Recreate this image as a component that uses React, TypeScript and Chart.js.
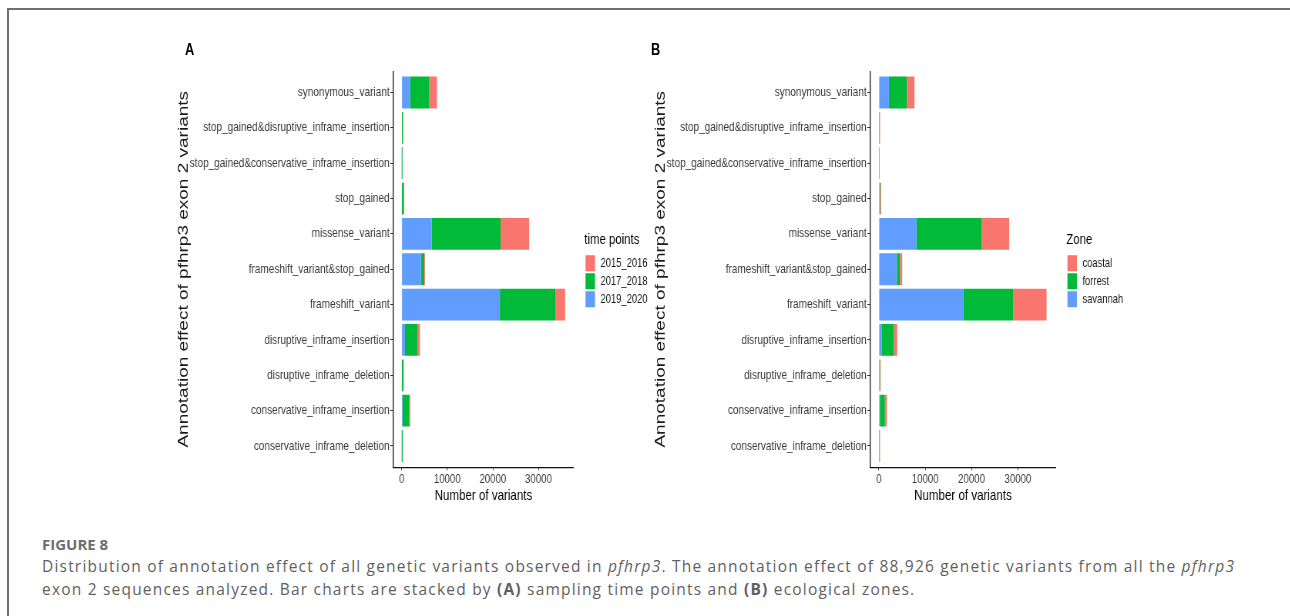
import React, { useEffect, useRef } from "react";
import { Chart, registerables } from "chart.js";

Chart.register(...registerables);

// ---------- data ----------
const categories = [
  "synonymous_variant",
  "stop_gained&disruptive_inframe_insertion",
  "stop_gained&conservative_inframe_insertion",
  "stop_gained",
  "missense_variant",
  "frameshift_variant&stop_gained",
  "frameshift_variant",
  "disruptive_inframe_insertion",
  "disruptive_inframe_deletion",
  "conservative_inframe_insertion",
  "conservative_inframe_deletion",
];

// Panel A: time points
const tp2019_2020 = [1830, 80, 30, 60, 6570, 4230, 21530, 730, 50, 220, 30];
const tp2017_2018 = [4230, 260, 170, 380, 15110, 730, 12190, 2700, 350, 1460, 220];
const tp2015_2016 = [1680, 30, 20, 140, 6280, 150, 2120, 580, 50, 220, 20];

// Panel B: zones
const zSavannah = [2160, 80, 50, 150, 8130, 3880, 18270, 650, 100, 220, 80];
const zForrest = [3880, 110, 80, 150, 14030, 650, 10720, 2590, 150, 1080, 120];
const zCoastal = [1650, 70, 40, 200, 5970, 500, 7190, 720, 150, 430, 50];

const xTickValues = [0, 10000, 20000, 30000];

const RED = "#F8766D";
const GREEN = "#00BA38";
const BLUE = "#619CFF";

const SANS = '"Liberation Sans", Arial, sans-serif';

// the reference figure is horizontally squeezed: draw wide, display narrow
const VIS_W = 490;
const INT_W = 636;
const K = VIS_W / INT_W;
const H = 470;

const ggLegend = {
  id: "ggLegend",
  afterDraw(chart: any, _args: any, opts: any) {
    const { ctx, chartArea } = chart;
    const x0 = chartArea.right + 12 / K;
    const cy = (chartArea.top + chartArea.bottom) / 2;
    ctx.save();
    ctx.textBaseline = "middle";
    ctx.textAlign = "left";
    ctx.fillStyle = "#000";
    ctx.font = `14.8px ${SANS}`;
    ctx.fillText(opts.title, x0 - 1.5, cy - 29);
    const ds = chart.data.datasets.slice().reverse();
    ds.forEach((d: any, i: number) => {
      const top = cy - 14 + i * 18;
      ctx.fillStyle = d.backgroundColor;
      ctx.fillRect(x0, top, 9.5 / K, 16);
      ctx.fillStyle = "#1a1a1a";
      ctx.font = `12.2px ${SANS}`;
      ctx.fillText(d.label, x0 + 15 / K, top + 8.5);
    });
    ctx.restore();
  },
};

type PanelProps = {
  series: { label: string; data: number[]; color: string }[];
  legendTitle: string;
  xMin: number;
  xMax: number;
  padRight: number;
};

function Panel({ series, legendTitle, xMin, xMax, padRight }: PanelProps) {
  const ref = useRef<HTMLCanvasElement>(null);
  useEffect(() => {
    if (!ref.current) return;
    const chart = new Chart(ref.current, {
      type: "bar",
      data: {
        datasets: series.map((s) => ({
          label: s.label,
          data: s.data.map((v, i) => ({ x: v, y: i })),
          backgroundColor: s.color,
          borderWidth: 0,
          barPercentage: 0.9,
          categoryPercentage: 1,
        })),
      },
      options: {
        animation: false,
        responsive: false,
        indexAxis: "y",
        layout: { padding: { left: 6.8, top: 31.3, bottom: 5, right: padRight } },
        plugins: {
          legend: { display: false },
          tooltip: { enabled: false },
          ggLegend: { title: legendTitle },
        } as any,
        scales: {
          x: {
            type: "linear",
            stacked: true,
            min: xMin,
            max: xMax,
            offset: false,
            afterFit: (s: any) => {
              s.height = 37.8;
            },
            afterBuildTicks: (s: any) => {
              s.ticks = xTickValues.map((v) => ({ value: v }));
            },
            grid: { drawOnChartArea: false, drawTicks: true, tickLength: 3, color: "#333", offset: false },
            border: { display: true, color: "#111", width: 1.3 },
            ticks: {
              font: { family: SANS, size: 12.5 },
              color: "#3a3a3a",
              padding: 2,
              maxRotation: 0,
              autoSkip: false,
              callback: (v: any) => String(v),
            },
            title: {
              display: true,
              text: "Number of variants",
              font: { family: SANS, size: 15 },
              color: "#000",
              padding: 0,
            },
          },
          y: {
            type: "linear",
            stacked: true,
            reverse: true,
            offset: false,
            min: -0.6,
            max: categories.length - 1 + 0.6,
            afterFit: (s: any) => {
              s.width = 283.2;
            },
            afterBuildTicks: (s: any) => {
              s.ticks = categories.map((_, i) => ({ value: i }));
            },
            grid: { drawOnChartArea: false, drawTicks: true, tickLength: 4, color: "#333", offset: false },
            border: { display: true, color: "#111", width: 1.3 },
            ticks: {
              font: { family: SANS, size: 13 },
              color: "#3a3a3a",
              padding: 1,
              autoSkip: false,
              callback: (v: any) => categories[v as number],
            },
            title: {
              display: true,
              text: "Annotation effect of pfhrp3 exon 2 variants",
              font: { family: SANS, size: 19 },
              color: "#1a1a1a",
              padding: 0,
            },
          },
        },
      } as any,
      plugins: [ggLegend],
    });
    return () => chart.destroy();
  }, []);
  return (
    <canvas
      ref={ref}
      width={INT_W}
      height={H}
      style={{ width: VIS_W, height: H, display: "block" }}
    />
  );
}

export default function App() {
  return (
    <div style={{ position: "absolute", left: 0, top: 0, width: 1290, height: 616, background: "#fff", overflow: "hidden" }}>
      <div
        style={{
          position: "absolute",
          left: 7,
          top: 8,
          right: -10,
          bottom: -10,
          borderTop: "2px solid #6e6e6e",
          borderLeft: "2px solid #6e6e6e",
        }}
      />
      <div style={{ position: "absolute", left: 170, top: 40 }}>
        <Panel
          series={[
            { label: "2019_2020", data: tp2019_2020, color: BLUE },
            { label: "2017_2018", data: tp2017_2018, color: GREEN },
            { label: "2015_2016", data: tp2015_2016, color: RED },
          ]}
          legendTitle="time points"
          xMin={-1794}
          xMax={37680}
          padRight={112.3}
        />
      </div>
      <div style={{ position: "absolute", left: 647, top: 40 }}>
        <Panel
          series={[
            { label: "savannah", data: zSavannah, color: BLUE },
            { label: "forrest", data: zForrest, color: GREEN },
            { label: "coastal", data: zCoastal, color: RED },
          ]}
          legendTitle="Zone"
          xMin={-1814}
          xMax={38094}
          padRight={105.9}
        />
      </div>
      <div style={{ position: "absolute", left: 185, top: 40, font: `bold 16px ${SANS}`, color: "#000", lineHeight: "20px", transform: "scaleX(0.8)", transformOrigin: "left" }}>A</div>
      <div style={{ position: "absolute", left: 651, top: 40, font: `bold 16px ${SANS}`, color: "#000", lineHeight: "20px", transform: "scaleX(0.8)", transformOrigin: "left" }}>B</div>
      <div
        style={{
          position: "absolute",
          left: 42,
          top: 534,
          font: 'bold 15px "Open Sans", sans-serif',
          color: "#6d6d6d",
          lineHeight: "20px",
          whiteSpace: "nowrap",
        }}
      >
        FIGURE 8
      </div>
      <div
        style={{
          position: "absolute",
          left: 42,
          top: 555,
          font: '15.5px "Open Sans", sans-serif',
          letterSpacing: "1.2px",
          color: "#5f5f5f",
          lineHeight: "23px",
          whiteSpace: "nowrap",
        }}
      >
        Distribution of annotation effect of all genetic variants observed in <i>pfhrp3</i>. The annotation effect of 88,926 genetic variants from all the <i>pfhrp3</i>
        <br />
        exon 2 sequences analyzed. Bar charts are stacked by <b>(A)</b> sampling time points and <b>(B)</b> ecological zones.
      </div>
    </div>
  );
}
